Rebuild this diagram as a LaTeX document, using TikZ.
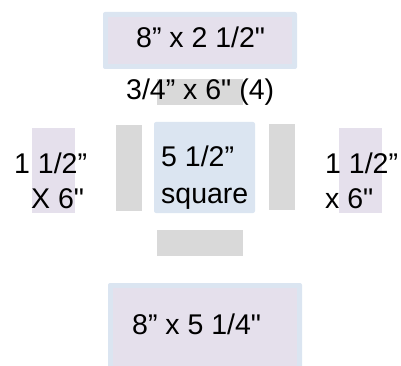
\documentclass[tikz,border=0pt]{standalone}
\usepackage{fontspec}
\setmainfont{Liberation Sans}[Ligatures=TeXOff]
\definecolor{lblue}{HTML}{DBE5F1}
\definecolor{lav}{HTML}{E5E0EC}
\definecolor{gbar}{HTML}{D9D9D9}
\begin{document}
\begin{tikzpicture}[x=1pt,y=-1pt,
  lbl/.style={inner sep=0pt, font=\fontsize{28.5}{34}\selectfont, anchor=base west, text=black},
  frame/.style={fill=lblue, rounded corners=2pt},
  panel/.style={fill=lav},
  bar/.style={fill=gbar}]
\useasboundingbox (0,0) rectangle (401,366);
\clip (0,0) rectangle (401,366);
% top box
\fill[frame] (103,12) rectangle (297,69);
\fill[panel] (108,17) rectangle (292,64);
% highlight behind label
\fill[bar] (157,79) rectangle (243,105);
% side panels
\fill[panel] (32,128) rectangle (75,213);
\fill[panel] (339,128) rectangle (382,213);
% bars
\fill[bar] (116,125) rectangle (142,211);
\fill[bar] (269,124) rectangle (295,210);
\fill[bar] (157,230) rectangle (243,256);
% center square
\fill[frame] (154,122) rectangle (255,213);
% bottom box
\fill[frame] (108,283) rectangle (302,380);
\fill[panel] (113,288) rectangle (297,380);
% texts
\node[lbl] (top) at (136,48) {8” x 2 1/2"};
\node[lbl] (strip) at (126,100) {3/4” x 6" (4)};
\node[lbl] (l1) at (14,173) {1 1/2”};
\node[lbl] (l2) at (31,208) {X 6"};
\node[lbl] (r1) at (325,173) {1 1/2”};
\node[lbl] (r2) at (325,208) {x 6"};
\node[lbl] (c1) at (161,167) {5 1/2”};
\node[lbl] (c2) at (161,203) {square};
\node[lbl] (bot) at (132,334) {8” x 5 1/4"};
\end{tikzpicture}
\end{document}
